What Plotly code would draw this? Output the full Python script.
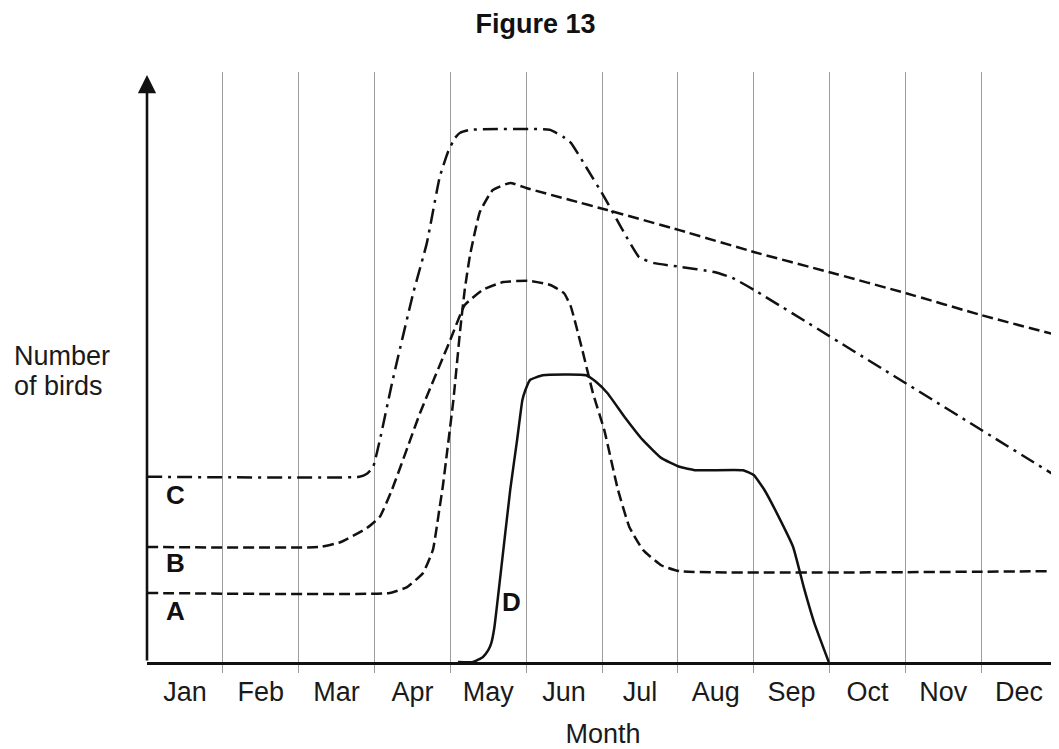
import plotly.graph_objects as go

months = ["Jan", "Feb", "Mar", "Apr", "May", "Jun", "Jul", "Aug", "Sep", "Oct", "Nov", "Dec"]
month_centres = [0.5, 1.5, 2.5, 3.5, 4.5, 5.5, 6.5, 7.5, 8.5, 9.5, 10.5, 11.5]
month_edges = [1, 2, 3, 4, 5, 6, 7, 8, 9, 10, 11, 12]

# Curve A (dashed): steep spring rise, slow decline
a_x = [0, 3.2, 3.43, 3.64, 3.77, 3.86, 3.9, 3.96, 4.04, 4.13, 4.19, 4.26, 4.39, 4.56, 4.79,
       5.01, 5.58, 6.07, 7.02, 8.0, 8.99, 10.01, 11.0, 12]
a_y = [11.7, 11.7, 12.7, 15.1, 19.0, 26.3, 29.7, 35.9, 44.4, 56.3, 63.1, 69.0, 76.3, 80.0, 81.2,
       80.3, 78.3, 76.6, 73.2, 69.5, 66.1, 62.5, 58.8, 55.4]

# Curve B (dashed): gradual rise, sharp summer drop
b_x = [0, 2.28, 2.55, 2.9, 3.07, 3.23, 3.47, 3.6, 4.0, 4.19, 4.43, 4.7, 5.05, 5.32, 5.5,
       5.59, 5.74, 5.88, 6.03, 6.21, 6.36, 6.54, 6.78, 7.02, 12]
b_y = [19.5, 19.5, 20.3, 22.7, 24.6, 29.2, 37.6, 42.2, 54.6, 60.5, 63.1, 64.4, 64.6, 63.9, 62.5,
       60.2, 52.9, 45.6, 39.3, 29.2, 22.9, 19.0, 16.4, 15.4, 15.4]

# Curve C (dash-dot)
c_x = [0, 2.8, 2.9, 2.98, 3.07, 3.24, 3.51, 3.69, 3.86, 3.97, 4.06, 4.13, 4.26, 5.31, 5.49, 5.59,
       5.79, 6.03, 6.25, 6.49, 6.69, 7.02, 7.48, 7.72, 8.0, 12.0]
c_y = [31.4, 31.4, 31.9, 33.0, 37.6, 47.8, 62.5, 71.0, 82.2, 86.5, 88.8, 89.7, 90.2, 90.2, 89.0, 88.0,
       83.9, 78.8, 73.7, 68.6, 67.6, 67.0, 66.1, 65.1, 63.1, 31.4]

# Curve D (solid)
d_x = [4.1, 4.3, 4.43, 4.5, 4.54, 4.58, 4.66, 4.79, 4.88, 4.95, 4.99, 5.05, 5.22, 5.79, 5.92,
       6.07, 6.3, 6.54, 6.78, 7.02, 7.24, 7.86, 8.0, 8.14, 8.33, 8.52, 8.66, 8.8, 8.99]
d_y = [0, 0, 0.85, 2.0, 3.2, 5.8, 14.6, 29.2, 37.6, 44.4, 46.1, 47.8, 48.6, 48.6, 47.5,
       45.6, 41.5, 37.6, 34.6, 33.1, 32.5, 32.5, 31.7, 29.2, 24.6, 19.5, 12.7, 6.6, 0]

FONT = "Liberation Sans, Arial, sans-serif"
INK = "#111111"
TXT = "#1a1a1a"
GRID = "#9c9c9c"
FS = 27

fig = go.Figure()
series = [
    ("A", a_x, a_y, "11px,5px"),
    ("B", b_x, b_y, "11px,5px"),
    ("C", c_x, c_y, "15px,6px,3px,6px"),
    ("D", d_x, d_y, "solid"),
]
for name, xs, ys, dash in series:
    fig.add_trace(go.Scatter(
        x=xs, y=ys, mode="lines", name=name,
        line=dict(color=INK, width=2.5, dash=dash, shape="spline", smoothing=0.4),
        hoverinfo="skip", showlegend=False,
    ))

fig.update_xaxes(
    range=[0, 12.026],
    tickmode="array", tickvals=month_centres, ticktext=months,
    ticks="outside", ticklen=4, tickcolor="rgba(0,0,0,0)",
    tickfont=dict(family=FONT, size=FS, color=TXT),
    showgrid=False, zeroline=False,
    showline=True, linecolor=INK, linewidth=2.5,
    minor=dict(tickmode="array", tickvals=month_edges, showgrid=True, gridcolor=GRID,
               gridwidth=1, ticks="outside", ticklen=8, tickcolor=GRID, tickwidth=1),
    title=dict(text="Month", font=dict(family=FONT, size=FS, color=TXT), standoff=18),
)
fig.update_yaxes(
    range=[0, 100], showticklabels=False, showgrid=False, zeroline=False,
    showline=False, ticks="",
)

# y-axis drawn as an arrow
fig.add_annotation(x=0, y=99.5, ax=0, ay=0, xref="x", yref="y", axref="x", ayref="y",
                   text="", showarrow=True, arrowhead=2, arrowsize=1.4, arrowwidth=2.6,
                   arrowcolor=INK)

# curve labels
for lab, lx, ly in [("C", 0.37, 28.3), ("B", 0.37, 16.8), ("A", 0.37, 8.6), ("D", 4.8, 10.1)]:
    fig.add_annotation(x=lx, y=ly, xref="x", yref="y", text="<b>%s</b>" % lab,
                       showarrow=False, font=dict(family=FONT, size=FS - 1, color=INK))

# y-axis caption (horizontal), placed in paper fractions of the plot area
fig.add_annotation(x=-0.148, y=0.518, xref="paper", yref="paper", text="Number",
                   showarrow=False, xanchor="left", yanchor="middle",
                   font=dict(family=FONT, size=FS, color=TXT))
fig.add_annotation(x=-0.148, y=0.467, xref="paper", yref="paper", text="of birds",
                   showarrow=False, xanchor="left", yanchor="middle",
                   font=dict(family=FONT, size=FS, color=TXT))

# page body has an 8px margin, so the figure is offset by 8px
fig.update_layout(
    width=1051, height=741,
    margin=dict(l=139, r=0, t=64, b=87),
    paper_bgcolor="white", plot_bgcolor="white",
    title=dict(text="<b>Figure 13</b>", x=0.502, xanchor="center", y=0.979, yanchor="middle",
               font=dict(family=FONT, size=FS, color="#111111")),
)

fig.write_html("out.html")
